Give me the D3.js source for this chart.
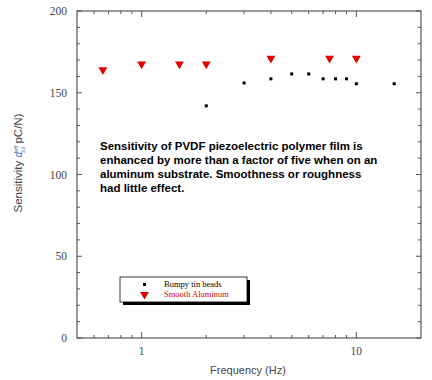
<!DOCTYPE html>
<html><head><meta charset="utf-8">
<script src="https://cdn.jsdelivr.net/npm/d3@7"></script>
<style>body{margin:0;background:#fff}svg{display:block}</style>
</head><body><svg id="c" width="432" height="380"></svg>
<script>
const bumpyFreq = [2, 3, 4, 5, 6, 7, 8, 9, 10, 15];
const bumpyVal  = [142, 156, 158.5, 161.5, 161.5, 158.5, 158.5, 158.5, 155.5, 155.5];
const smoothFreq = [0.66, 1, 1.5, 2, 4, 7.5, 10];
const smoothVal  = [164, 167.5, 167.5, 167.5, 171, 171, 171];
const xMajor = [1, 10];
const xMinor = [0.6, 0.7, 0.8, 0.9, 2, 3, 4, 5, 6, 7, 8, 9];
const yMajor = [0, 50, 100, 150, 200];
const yMinor = [10, 20, 30, 40, 60, 70, 80, 90, 110, 120, 130, 140, 160, 170, 180, 190];
const seriesNames = ["Bumpy tin beads", "Smooth Aluminum"];
const noteLines = ["Sensitivity of PVDF piezoelectric polymer film is",
  "enhanced by more than a factor of five when on an",
  "aluminum substrate. Smoothness or roughness",
  "had little effect."];

const svg = d3.select("#c");
const L = 77, R = 421, T = 11, B = 338;
const x = d3.scaleLog().domain([0.5, 20]).range([L, R]);
const y = d3.scaleLinear().domain([0, 200]).range([B, T]);
const axCol = "#555";

svg.append("rect").attr("x", L).attr("y", T).attr("width", R - L).attr("height", B - T)
  .attr("fill", "none").attr("stroke", axCol).attr("stroke-width", 1.2);

const g = svg.append("g").attr("stroke", axCol).attr("stroke-width", 1);
xMajor.forEach(v => {
  g.append("line").attr("x1", x(v)).attr("x2", x(v)).attr("y1", B).attr("y2", B - 6);
  g.append("line").attr("x1", x(v)).attr("x2", x(v)).attr("y1", T).attr("y2", T + 6);
});
xMinor.forEach(v => {
  g.append("line").attr("x1", x(v)).attr("x2", x(v)).attr("y1", B).attr("y2", B - 3);
  g.append("line").attr("x1", x(v)).attr("x2", x(v)).attr("y1", T).attr("y2", T + 3);
});
yMajor.forEach(v => {
  g.append("line").attr("x1", L).attr("x2", L + 5).attr("y1", y(v)).attr("y2", y(v));
  g.append("line").attr("x1", R).attr("x2", R - 5).attr("y1", y(v)).attr("y2", y(v));
});
yMinor.forEach(v => {
  g.append("line").attr("x1", L).attr("x2", L + 3).attr("y1", y(v)).attr("y2", y(v));
  g.append("line").attr("x1", R).attr("x2", R - 3).attr("y1", y(v)).attr("y2", y(v));
});

const tickFont = "'Liberation Serif', 'DejaVu Serif', serif";
svg.append("g").selectAll("text").data(yMajor).join("text")
  .attr("x", L - 10).attr("y", d => y(d) + 4).attr("text-anchor", "end")
  .attr("font-family", tickFont).attr("font-size", 11.5).attr("fill", "#444").text(d => d);
svg.append("g").selectAll("text").data(xMajor).join("text")
  .attr("x", d => x(d)).attr("y", B + 17).attr("text-anchor", "middle")
  .attr("font-family", tickFont).attr("font-size", 11.5).attr("fill", "#444").text(d => d);

svg.append("text").attr("x", 248).attr("y", 374).attr("text-anchor", "middle")
  .attr("font-family", "'Liberation Sans', Arial, sans-serif").attr("font-size", 11)
  .attr("fill", "#444").text("Frequency (Hz)");

const yl = svg.append("text").attr("transform", "translate(22,163) rotate(-90)")
  .attr("text-anchor", "middle").attr("font-family", "'Liberation Sans', Arial, sans-serif")
  .attr("font-size", 11.5).attr("fill", "#444");
yl.append("tspan").text("Sensitivity ");
yl.append("tspan").attr("fill", "#3a6fc4").attr("font-style", "italic").attr("font-size", 10).text("d");
yl.append("tspan").attr("fill", "#3a6fc4").attr("font-size", 6).attr("dy", -4).text("eff");
yl.append("tspan").attr("fill", "#3a6fc4").attr("font-size", 6).attr("dx", -8).attr("dy", 7).text("33");
yl.append("tspan").attr("dy", -3).text(" pC/N)");

svg.append("g").selectAll("rect").data(bumpyFreq).join("rect")
  .attr("x", (d) => x(d) - 1.5).attr("y", (d, i) => y(bumpyVal[i]) - 1.5)
  .attr("width", 3).attr("height", 3).attr("fill", "#000");
const tri = d3.symbol().type(d3.symbolTriangle).size(34);
svg.append("g").selectAll("path").data(smoothFreq).join("path")
  .attr("transform", (d, i) => `translate(${x(d)},${y(smoothVal[i])}) rotate(180)`)
  .attr("d", tri).attr("fill", "#e00000");

svg.append("g").selectAll("text").data(noteLines).join("text")
  .attr("x", 100).attr("y", (d, i) => 150 + i * 14)
  .attr("font-family", "'Liberation Sans', Arial, sans-serif").attr("font-size", 11.5)
  .attr("font-weight", "bold").attr("fill", "#000").text(d => d);

const lg = svg.append("g");
lg.append("rect").attr("x", 123).attr("y", 280).attr("width", 127).attr("height", 25).attr("fill", "#000");
lg.append("rect").attr("x", 120).attr("y", 277).attr("width", 127).attr("height", 25)
  .attr("fill", "#fff").attr("stroke", "#000").attr("stroke-width", 0.8);
lg.append("rect").attr("x", 143).attr("y", 283).attr("width", 3).attr("height", 3).attr("fill", "#000");
lg.append("path").attr("transform", "translate(144.5,294.5) rotate(180)").attr("d", tri).attr("fill", "#e00000");
lg.selectAll("text").data(seriesNames).join("text")
  .attr("x", 164).attr("y", (d, i) => 287 + i * 10)
  .attr("font-family", tickFont).attr("font-size", 8.5)
  .attr("fill", (d, i) => i ? "#e00000" : "#000").text(d => d);
</script></body></html>
